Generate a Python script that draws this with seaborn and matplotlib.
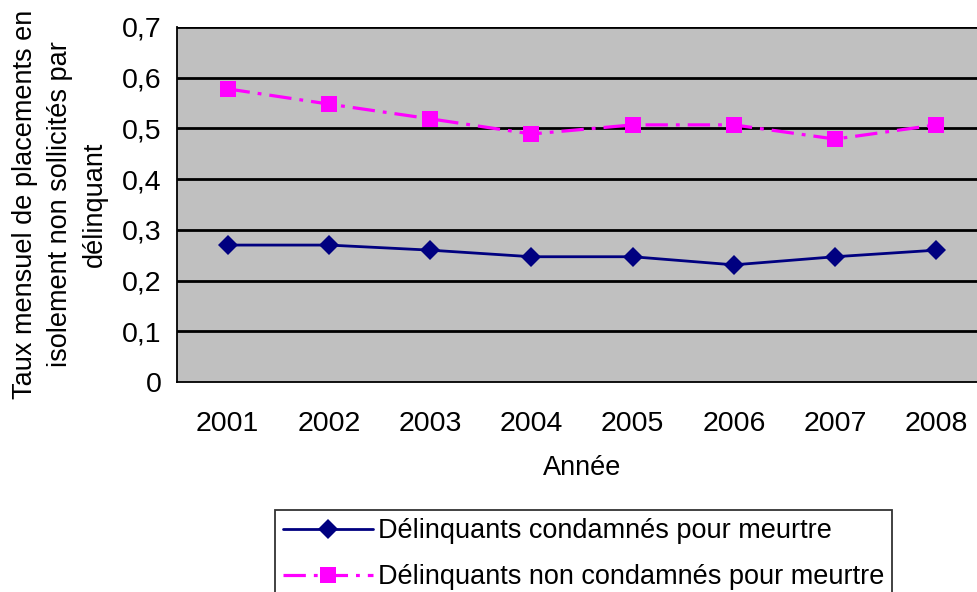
import matplotlib
matplotlib.use("Agg")
import matplotlib.pyplot as plt
import seaborn as sns
import pandas as pd
import numpy as np

years = ["2001", "2002", "2003", "2004", "2005", "2006", "2007", "2008"]
murder = [0.27, 0.27, 0.26, 0.247, 0.247, 0.231, 0.247, 0.26]
non_murder = [0.578, 0.548, 0.519, 0.489, 0.507, 0.507, 0.479, 0.507]
label_murder = "Délinquants condamnés pour meurtre"
label_non = "Délinquants non condamnés pour meurtre"
y_ticks = [0, 0.1, 0.2, 0.3, 0.4, 0.5, 0.6, 0.7]
y_tick_labels = ["0", "0,1", "0,2", "0,3", "0,4", "0,5", "0,6", "0,7"]

sns.set_theme(style="white")
plt.rcParams["font.family"] = ["Liberation Sans", "DejaVu Sans"]
plt.rcParams["text.color"] = "black"
plt.rcParams["axes.labelcolor"] = "black"
plt.rcParams["xtick.color"] = "black"
plt.rcParams["ytick.color"] = "black"
FS_TICK = 20.5
FS_TEXT = 19.5

df = pd.DataFrame({
    "pos": list(range(len(years))) * 2,
    "value": murder + non_murder,
    "series": [label_murder] * len(years) + [label_non] * len(years),
})

fig = plt.figure(figsize=(9.78, 5.92), dpi=100)
ax = fig.add_axes([177 / 978, 1 - 382 / 592, 810 / 978, 355 / 592])
ax.set_facecolor("#C0C0C0")

sns.lineplot(data=df, x="pos", y="value", hue="series", style="series",
             palette={label_murder: "#000080", label_non: "#FF00FF"},
             markers={label_murder: "D", label_non: "s"},
             dashes={label_murder: "", label_non: (7, 2.5, 1.2, 2.5)},
             ax=ax, legend=False)
lines = ax.get_lines()
lines[0].set_linewidth(2)
lines[0].set_markersize(10)
lines[0].set_markeredgewidth(0)
lines[1].set_linewidth(2.3)
lines[1].set_markersize(11)
lines[1].set_markeredgewidth(0)

ax.set_xlim(-0.5, len(years) - 0.5)
ax.set_ylim(0, 0.7)
ax.set_yticks(y_ticks)
ax.set_yticklabels(y_tick_labels, fontsize=FS_TICK)
for yv in y_ticks[1:]:
    ax.axhline(yv, color="black", lw=2, zorder=1)

ax.set_xticks(range(len(years)))
ax.set_xticklabels(years, fontsize=FS_TICK)
ax.set_xticks(np.arange(-0.5, len(years), 1), minor=True)
ax.tick_params(axis="x", which="major", length=0, pad=21)
ax.tick_params(axis="x", which="minor", length=9, width=1.3, color="black", direction="out")
ax.tick_params(axis="y", length=7, width=1.3, color="black", direction="out", pad=4)

for s in ["top", "right"]:
    ax.spines[s].set_visible(False)
for s in ["left", "bottom"]:
    ax.spines[s].set_color("black")
    ax.spines[s].set_linewidth(1.3)

ax.set_xlabel("Année", fontsize=FS_TEXT, labelpad=13)
ax.set_ylabel("Taux mensuel de placements en\nisolement non sollicités par\ndélinquant",
              fontsize=FS_TEXT, labelpad=10, linespacing=1.45)

handles = [
    plt.Line2D([], [], color="#000080", lw=2, marker="D", markersize=10, markeredgewidth=0),
    plt.Line2D([], [], color="#FF00FF", lw=2.3, marker="s", markersize=11,
               markeredgewidth=0, dashes=(7, 2.5, 1.2, 2.5)),
]
leg = fig.legend(handles, [label_murder, label_non], loc="upper left",
                 bbox_to_anchor=(275 / 978, 1 - 510 / 592), fontsize=FS_TEXT,
                 frameon=True, fancybox=False, edgecolor="black",
                 handlelength=3.3, handletextpad=0.2, borderpad=0.3,
                 labelspacing=0.75, borderaxespad=0)
leg.get_frame().set_linewidth(1.3)

fig.savefig("out.png", dpi=100, facecolor="white")
